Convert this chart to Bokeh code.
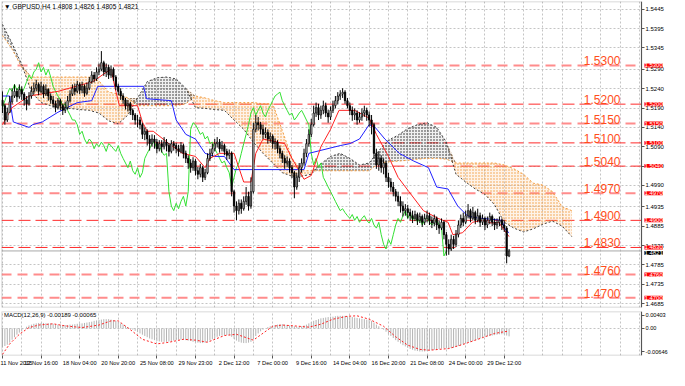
from bokeh.plotting import figure
from bokeh.layouts import column
from bokeh.models import (FixedTicker, Label, Span, Range1d, NumeralTickFormatter,
                          LinearAxis, BoxAnnotation)
from bokeh.embed import file_html
from bokeh.resources import INLINE

FONT = "Liberation Sans"

# ---------------- data (GBPUSD H4) ----------------
first_open = 1.5210
close = [
    1.5196, 1.5159, 1.5179, 1.5206, 1.5221, 1.5233, 1.5219, 1.5238, 1.5226, 1.5211,
    1.5201, 1.5221, 1.5233, 1.5241, 1.5251, 1.5233, 1.5246, 1.5226, 1.5238, 1.5221,
    1.5211, 1.5201, 1.5191, 1.5209, 1.5196, 1.5184, 1.5191, 1.5209, 1.5226, 1.5241,
    1.5233, 1.5251, 1.5236, 1.5246, 1.5228, 1.5241, 1.5258, 1.5275, 1.5265, 1.5283,
    1.5290, 1.5307, 1.5283, 1.5295, 1.5275, 1.5290, 1.5270, 1.5246, 1.5233, 1.5221,
    1.5211, 1.5196, 1.5201, 1.5184, 1.5172, 1.5159, 1.5159, 1.5147, 1.5122, 1.5130,
    1.5110, 1.5098, 1.5110, 1.5102, 1.5085, 1.5098, 1.5090, 1.5102, 1.5093, 1.5078,
    1.5098, 1.5093, 1.5085, 1.5078, 1.5093, 1.5073, 1.5060, 1.5048, 1.5036, 1.5053,
    1.5028, 1.5019, 1.5036, 1.5011, 1.5023, 1.5060, 1.5073, 1.5085, 1.5098, 1.5102,
    1.5085, 1.5093, 1.5078, 1.5068, 1.5073, 1.4974, 1.4937, 1.4925, 1.4944, 1.4930,
    1.4949, 1.4962, 1.4937, 1.4974, 1.5135, 1.5152, 1.5147, 1.5135, 1.5122, 1.5127,
    1.5110, 1.5117, 1.5098, 1.5102, 1.5085, 1.5073, 1.5060, 1.5048, 1.5053, 1.5036,
    1.5023, 1.4986, 1.5011, 1.5036, 1.5048, 1.5073, 1.5098, 1.5122, 1.5147, 1.5177,
    1.5191, 1.5172, 1.5184, 1.5196, 1.5177, 1.5167, 1.5184, 1.5196, 1.5209, 1.5221,
    1.5226, 1.5231, 1.5209, 1.5196, 1.5184, 1.5172, 1.5177, 1.5159, 1.5167, 1.5177,
    1.5184, 1.5172, 1.5159, 1.5147, 1.5073, 1.5043, 1.5060, 1.5036, 1.5048, 1.5011,
    1.4999, 1.4986, 1.4974, 1.4962, 1.4949, 1.4937, 1.4925, 1.4930, 1.4920, 1.4912,
    1.4905, 1.4915, 1.4900, 1.4910, 1.4895, 1.4905, 1.4912, 1.4900, 1.4893, 1.4905,
    1.4888, 1.4880, 1.4895, 1.4863, 1.4838, 1.4826, 1.4851, 1.4838, 1.4863, 1.4888,
    1.4905, 1.4895, 1.4912, 1.4925, 1.4905, 1.4920, 1.4900, 1.4912, 1.4895, 1.4905,
    1.4888, 1.4900, 1.4910, 1.4895, 1.4888, 1.4895, 1.4900, 1.4888, 1.4880, 1.4808,
    1.4821,
]
high = [
    1.5233, 1.5201, 1.5191, 1.5221, 1.5241, 1.5251, 1.5241, 1.5251, 1.5246, 1.5231,
    1.5221, 1.5231, 1.5246, 1.5256, 1.5263, 1.5256, 1.5258, 1.5251, 1.5251, 1.5241,
    1.5228, 1.5221, 1.5209, 1.5216, 1.5214, 1.5201, 1.5206, 1.5221, 1.5236, 1.5251,
    1.5253, 1.5260, 1.5256, 1.5258, 1.5251, 1.5256, 1.5270, 1.5285, 1.5283, 1.5295,
    1.5305, 1.5337, 1.5312, 1.5305, 1.5302, 1.5300, 1.5295, 1.5275, 1.5253, 1.5241,
    1.5228, 1.5216, 1.5211, 1.5206, 1.5189, 1.5177, 1.5172, 1.5167, 1.5152, 1.5140,
    1.5135, 1.5120, 1.5122, 1.5120, 1.5110, 1.5107, 1.5107, 1.5115, 1.5110, 1.5100,
    1.5107, 1.5105, 1.5100, 1.5095, 1.5102, 1.5098, 1.5080, 1.5068, 1.5058, 1.5063,
    1.5058, 1.5038, 1.5046, 1.5041, 1.5033, 1.5073, 1.5085, 1.5098, 1.5110, 1.5115,
    1.5110, 1.5105, 1.5098, 1.5085, 1.5083, 1.5078, 1.4979, 1.4949, 1.4954, 1.4954,
    1.4962, 1.4986, 1.4974, 1.5011, 1.5152, 1.5172, 1.5167, 1.5154, 1.5147, 1.5140,
    1.5135, 1.5127, 1.5122, 1.5112, 1.5107, 1.5093, 1.5080, 1.5068, 1.5065, 1.5060,
    1.5043, 1.5028, 1.5023, 1.5048, 1.5060, 1.5085, 1.5110, 1.5135, 1.5162, 1.5196,
    1.5204, 1.5201, 1.5196, 1.5209, 1.5204, 1.5186, 1.5194, 1.5209, 1.5221, 1.5231,
    1.5236, 1.5241, 1.5236, 1.5216, 1.5204, 1.5194, 1.5189, 1.5184, 1.5179, 1.5189,
    1.5196, 1.5191, 1.5181, 1.5172, 1.5152, 1.5085, 1.5078, 1.5068, 1.5060, 1.5053,
    1.5023, 1.5009, 1.4999, 1.4981, 1.4974, 1.4962, 1.4949, 1.4942, 1.4940, 1.4930,
    1.4925, 1.4925, 1.4920, 1.4920, 1.4915, 1.4917, 1.4925, 1.4920, 1.4910, 1.4915,
    1.4910, 1.4900, 1.4905, 1.4900, 1.4870, 1.4851, 1.4863, 1.4860, 1.4875, 1.4900,
    1.4915, 1.4920, 1.4925, 1.4942, 1.4930, 1.4935, 1.4925, 1.4930, 1.4920, 1.4915,
    1.4910, 1.4910, 1.4920, 1.4915, 1.4905, 1.4905, 1.4910, 1.4905, 1.4900, 1.4885,
    1.4826,
]
low = [
    1.5177, 1.5147, 1.5154, 1.5177, 1.5201, 1.5216, 1.5206, 1.5214, 1.5211, 1.5196,
    1.5184, 1.5196, 1.5214, 1.5226, 1.5233, 1.5223, 1.5228, 1.5216, 1.5221, 1.5209,
    1.5201, 1.5191, 1.5179, 1.5186, 1.5184, 1.5172, 1.5177, 1.5186, 1.5204, 1.5221,
    1.5223, 1.5228, 1.5226, 1.5228, 1.5219, 1.5223, 1.5236, 1.5253, 1.5256, 1.5260,
    1.5275, 1.5285, 1.5273, 1.5270, 1.5265, 1.5268, 1.5260, 1.5236, 1.5223, 1.5211,
    1.5201, 1.5186, 1.5181, 1.5172, 1.5159, 1.5147, 1.5140, 1.5135, 1.5110, 1.5107,
    1.5093, 1.5080, 1.5090, 1.5085, 1.5073, 1.5078, 1.5075, 1.5083, 1.5078, 1.5065,
    1.5073, 1.5080, 1.5073, 1.5065, 1.5073, 1.5060, 1.5048, 1.5033, 1.5023, 1.5028,
    1.5016, 1.5006, 1.5011, 1.4999, 1.5004, 1.5019, 1.5053, 1.5065, 1.5078, 1.5088,
    1.5075, 1.5078, 1.5068, 1.5056, 1.5058, 1.4962, 1.4920, 1.4900, 1.4915, 1.4917,
    1.4925, 1.4940, 1.4925, 1.4930, 1.4969, 1.5127, 1.5132, 1.5122, 1.5110, 1.5112,
    1.5098, 1.5100, 1.5085, 1.5083, 1.5073, 1.5060, 1.5048, 1.5033, 1.5038, 1.5023,
    1.5009, 1.4957, 1.4979, 1.4999, 1.5023, 1.5041, 1.5063, 1.5090, 1.5115, 1.5142,
    1.5167, 1.5159, 1.5162, 1.5174, 1.5167, 1.5152, 1.5159, 1.5177, 1.5189, 1.5199,
    1.5211, 1.5216, 1.5201, 1.5189, 1.5172, 1.5157, 1.5159, 1.5147, 1.5152, 1.5157,
    1.5167, 1.5157, 1.5142, 1.5122, 1.5060, 1.5033, 1.5028, 1.5023, 1.5019, 1.4999,
    1.4984, 1.4974, 1.4962, 1.4949, 1.4937, 1.4920, 1.4910, 1.4912, 1.4905, 1.4900,
    1.4893, 1.4898, 1.4888, 1.4893, 1.4883, 1.4888, 1.4895, 1.4888, 1.4880, 1.4885,
    1.4875, 1.4865, 1.4875, 1.4851, 1.4809, 1.4811, 1.4821, 1.4826, 1.4831, 1.4856,
    1.4880, 1.4885, 1.4890, 1.4905, 1.4895, 1.4900, 1.4890, 1.4895, 1.4883, 1.4888,
    1.4875, 1.4880, 1.4890, 1.4885, 1.4875, 1.4878, 1.4885, 1.4875, 1.4870, 1.4789,
    1.4805,
]

# Ichimoku lines (bar index, price)
tenkan_x = [0, 4, 11, 23, 37.5, 42, 45, 47, 48.5, 56, 58, 60, 62.5, 69, 74.6, 80, 84, 86, 90, 96,
            100, 103, 105, 108, 117, 120, 125, 128, 132, 136, 139.5, 146, 152, 155, 160, 164, 168.5,
            174.5, 180.6, 184.7, 186.7, 190.7, 194.8, 198.8, 202.8, 205.6, 208, 210]
tenkan_v = [1.5147, 1.5191, 1.5221, 1.5233, 1.5258, 1.5278, 1.5290, 1.5233, 1.5196, 1.5196,
            1.5154, 1.5130, 1.5130, 1.5098, 1.5073, 1.5065, 1.5036, 1.5060, 1.5073, 1.5073,
            1.4999, 1.4999, 1.5073, 1.5110, 1.5098, 1.5060, 1.5006, 1.5016, 1.5090, 1.5135,
            1.5184, 1.5184, 1.5164, 1.5122, 1.5065, 1.5011, 1.4974, 1.4925, 1.4905, 1.4895,
            1.4863, 1.4868, 1.4895, 1.4900, 1.4893, 1.4895, 1.4875, 1.4858]
kijun_x = [0, 3, 4, 4.5, 11, 12.5, 16.5, 23, 31, 37, 39.5, 58.5, 59.7, 70, 72, 76, 80, 84, 88, 92,
           96, 125, 127, 140, 144, 148, 152, 154.5, 158.5, 164.5, 170.5, 176.6, 180, 184.7, 188.7,
           192.7, 196, 207, 208.5, 210]
kijun_v = [1.5221, 1.5221, 1.5172, 1.5154, 1.5140, 1.5147, 1.5154, 1.5179, 1.5204, 1.5209,
           1.5246, 1.5246, 1.5214, 1.5209, 1.5159, 1.5122, 1.5110, 1.5073, 1.5065, 1.5065,
           1.5031, 1.5031, 1.5073, 1.5093, 1.5098, 1.5110, 1.5147, 1.5140, 1.5110, 1.5073,
           1.5053, 1.5036, 1.4986, 1.4981, 1.4937, 1.4912, 1.4907, 1.4900, 1.4875, 1.4868]
cloud_x = list(range(0, 237, 4))
span_a = [1.5406, 1.5357, 1.5302, 1.5231, 1.5204, 1.5196, 1.5191, 1.5189, 1.5186, 1.5184,
          1.5177, 1.5157, 1.5149, 1.5172, 1.5216, 1.5258, 1.5268, 1.5270, 1.5265, 1.5241,
          1.5191, 1.5189, 1.5186, 1.5184, 1.5159, 1.5135, 1.5102, 1.5073, 1.5048, 1.5023,
          1.5014, 1.5014, 1.5019, 1.5046, 1.5065, 1.5073, 1.5060, 1.5043, 1.5048, 1.5080,
          1.5107, 1.5120, 1.5137, 1.5147, 1.5152, 1.5140, 1.5102, 1.5019, 1.4999, 1.4981,
          1.4967, 1.4940, 1.4895, 1.4880, 1.4870, 1.4878, 1.4890, 1.4898, 1.4885, 1.4858]
span_b = [1.5377, 1.5342, 1.5295, 1.5270, 1.5270, 1.5270, 1.5270, 1.5270, 1.5270, 1.5270,
          1.5260, 1.5231, 1.5226, 1.5216, 1.5196, 1.5196, 1.5196, 1.5196, 1.5196, 1.5201,
          1.5221, 1.5216, 1.5209, 1.5204, 1.5204, 1.5204, 1.5204, 1.5201, 1.5201, 1.5132,
          1.5060, 1.5028, 1.5028, 1.5028, 1.5028, 1.5028, 1.5028, 1.5028, 1.5028, 1.5048,
          1.5051, 1.5053, 1.5055, 1.5058, 1.5060, 1.5060, 1.5058, 1.5048, 1.5048, 1.5048,
          1.5048, 1.5048, 1.5043, 1.5033, 1.5019, 1.4996, 1.4991, 1.4974, 1.4935, 1.4925]

# MACD(12,26,9)
macd = [
    -0.0045, -0.0042, -0.0039, -0.0034, -0.0027, -0.0021, -0.0015, -0.0010, -0.0005, 0.0000,
    0.0004, 0.0007, 0.0009, 0.0011, 0.0012, 0.0013, 0.0013, 0.0013, 0.0012, 0.0012,
    0.0012, 0.0011, 0.0010, 0.0009, 0.0009, 0.0008, 0.0008, 0.0008, 0.0009, 0.0009,
    0.0010, 0.0011, 0.0012, 0.0012, 0.0013, 0.0014, 0.0015, 0.0016, 0.0018, 0.0019,
    0.0020, 0.0021, 0.0022, 0.0022, 0.0022, 0.0021, 0.0020, 0.0018, 0.0015, 0.0012,
    0.0009, 0.0006, 0.0003, 0.0000, -0.0003, -0.0006, -0.0009, -0.0012, -0.0015, -0.0018,
    -0.0021, -0.0024, -0.0026, -0.0028, -0.0030, -0.0031, -0.0032, -0.0032, -0.0032, -0.0031,
    -0.0030, -0.0029, -0.0028, -0.0027, -0.0027, -0.0027, -0.0028, -0.0029, -0.0030, -0.0032,
    -0.0033, -0.0034, -0.0035, -0.0035, -0.0034, -0.0032, -0.0029, -0.0026, -0.0023, -0.0020,
    -0.0018, -0.0017, -0.0016, -0.0016, -0.0016, -0.0020, -0.0025, -0.0029, -0.0032, -0.0034,
    -0.0035, -0.0035, -0.0034, -0.0032, -0.0025, -0.0018, -0.0012, -0.0007, -0.0003, 0.0000,
    0.0003, 0.0005, 0.0007, 0.0008, 0.0009, 0.0010, 0.0010, 0.0009, 0.0008, 0.0007,
    0.0006, 0.0005, 0.0004, 0.0004, 0.0005, 0.0007, 0.0009, 0.0012, 0.0015, 0.0018,
    0.0020, 0.0022, 0.0024, 0.0025, 0.0026, 0.0027, 0.0028, 0.0028, 0.0029, 0.0030,
    0.0030, 0.0030, 0.0030, 0.0029, 0.0028, 0.0027, 0.0026, 0.0025, 0.0024, 0.0023,
    0.0022, 0.0021, 0.0020, 0.0018, 0.0014, 0.0009, 0.0005, 0.0001, -0.0003, -0.0008,
    -0.0013, -0.0018, -0.0023, -0.0028, -0.0032, -0.0036, -0.0040, -0.0043, -0.0046, -0.0049,
    -0.0051, -0.0053, -0.0054, -0.0055, -0.0055, -0.0055, -0.0054, -0.0053, -0.0052, -0.0051,
    -0.0050, -0.0049, -0.0048, -0.0047, -0.0048, -0.0048, -0.0047, -0.0046, -0.0044, -0.0042,
    -0.0040, -0.0038, -0.0036, -0.0034, -0.0032, -0.0030, -0.0028, -0.0026, -0.0024, -0.0022,
    -0.0020, -0.0019, -0.0018, -0.0017, -0.0016, -0.0015, -0.0014, -0.0014, -0.0014, -0.0017,
    -0.00189,
]
signal_x = [0, 3, 7, 11, 15, 21, 26, 33, 40, 45, 48, 53, 58, 64, 69, 75, 80, 85, 92, 97,
            104, 112, 116, 121, 127, 132, 137, 143, 147, 152, 158, 163, 168, 173, 177, 185, 191,
            199, 204, 208, 210]
signal_v = [-0.0062, -0.0037, -0.0014, 0.0002, 0.0008, 0.0011, 0.0006, 0.0002, 0.0008, 0.0018,
            0.0018, -0.0003, -0.0026, -0.0037, -0.0033, -0.0026, -0.0028, -0.0033, -0.0017, -0.0014,
            -0.0028, 0.0005, 0.0008, 0.0006, 0.0003, 0.0010, 0.0022, 0.0029, 0.0030, 0.0022,
            0.0005, -0.0020, -0.0040, -0.0050, -0.0052, -0.0048, -0.0038, -0.0022, -0.0012, -0.0008,
            -0.00065]

levels = [1.5300, 1.5200, 1.5150, 1.5100, 1.5040, 1.4970, 1.4900, 1.4830, 1.4760, 1.4700]
level_heavy = [True, False, True, False, False, True, False, False, True, True]
price_ticks = [1.4685, 1.4735, 1.4785, 1.4835, 1.4885, 1.4935, 1.4990, 1.5040,
               1.5090, 1.5140, 1.5190, 1.5240, 1.5290, 1.5345, 1.5395, 1.5445]
time_labels = ["11 Nov 2015", "13 Nov 16:00", "18 Nov 04:00", "20 Nov 20:00", "25 Nov 08:00",
               "29 Nov 23:00", "2 Dec 12:00", "7 Dec 00:00", "9 Dec 16:00", "14 Dec 04:00",
               "16 Dec 20:00", "21 Dec 08:00", "24 Dec 00:00", "29 Dec 12:00"]
macd_max, macd_min = 0.00403, -0.00646

# ---------------- derived for drawing ----------------
n = len(close)
bars = list(range(n))
opens = [first_open] + close[:-1]
body_top = [max(o, c) for o, c in zip(opens, close)]
body_bot = [min(o, c) for o, c in zip(opens, close)]
body_col = ["white" if c > o else "black" for o, c in zip(opens, close)]
chik_x = bars[: n - 26]
chik_y = close[26:]
cloud_top = [max(a, b) for a, b in zip(span_a, span_b)]
label_ticks = [16 * k for k in range(len(time_labels))]
grid_ticks = list(range(0, 265, 8))

GRID = "#c4c4c4"
EDGE = 264.9          # right border of the chart area (in bars)
FRAME = "#555555"
x_range = Range1d(-0.4, 276.5)


def style_axis(ax, size="6px"):
    ax.major_label_text_font = FONT
    ax.major_label_text_font_size = size
    ax.major_label_text_color = "black"
    ax.major_tick_out = 3
    ax.major_tick_in = 0
    ax.minor_tick_out = 0
    ax.minor_tick_in = 0
    ax.major_label_standoff = 1
    ax.axis_line_color = FRAME
    ax.major_tick_line_color = FRAME


def frame_box(fig):
    # white mask over the axis strip and a border around the chart area
    fig.add_layout(BoxAnnotation(left=EDGE, fill_color="white", fill_alpha=1.0,
                                 line_color=None, level="underlay"))
    fig.add_layout(BoxAnnotation(right=EDGE, fill_color=None, fill_alpha=0,
                                 line_color=FRAME, line_width=1.5))


# ---------------- main price panel ----------------
p = figure(width=669, height=309, x_range=x_range, y_range=Range1d(1.4675, 1.5465),
           output_backend="svg", toolbar_location=None, x_axis_location=None,
           y_axis_location=None, min_border_left=1, min_border_right=0,
           min_border_top=1, min_border_bottom=2, outline_line_color=None,
           background_fill_color="white", border_fill_color="white")
p.xgrid.ticker = FixedTicker(ticks=grid_ticks)
p.xgrid.grid_line_color = GRID
p.xgrid.grid_line_dash = "2 2"
p.ygrid.ticker = FixedTicker(ticks=price_ticks)
p.ygrid.grid_line_color = GRID
p.ygrid.grid_line_dash = "2 2"

# level lines and current price (under the mask so they stop at the border)
for lv, heavy in zip(levels, level_heavy):
    if heavy:
        p.add_layout(Span(location=lv, dimension="width", line_color="#ff8c8c",
                          line_width=2, line_dash="10 6", level="underlay"))
    else:
        p.add_layout(Span(location=lv, dimension="width", line_color="#ff2a2a",
                          line_width=1, line_dash="12 5", level="underlay"))
p.add_layout(Span(location=close[-1], dimension="width", line_color="#a8a8a8",
                  line_width=1, level="underlay"))
frame_box(p)

yax = LinearAxis(fixed_location=EDGE)
yax.ticker = FixedTicker(ticks=price_ticks)
yax.formatter = NumeralTickFormatter(format="0.0000")
style_axis(yax)
p.add_layout(yax, "right")

# cloud
p.varea(x=cloud_x, y1=span_a, y2=cloud_top, fill_color="#f5a04a", fill_alpha=0.12,
        hatch_pattern="dot", hatch_color="#f39a3c", hatch_scale=3, hatch_weight=1)
p.varea(x=cloud_x, y1=span_b, y2=cloud_top, fill_color="#404040", fill_alpha=0.08,
        hatch_pattern="dot", hatch_color="#202020", hatch_scale=3, hatch_weight=1)
p.line(cloud_x, span_b, line_color="#f39a3c", line_dash="2 2", line_width=1)
p.line(cloud_x, span_a, line_color="#404040", line_dash="2 2", line_width=1)

# chikou, tenkan, kijun
p.line(chik_x, chik_y, line_color="#33e033", line_width=1)
p.line(kijun_x, kijun_v, line_color="#2020ff", line_width=1)
p.line(tenkan_x, tenkan_v, line_color="#ff2020", line_width=1)

# candles
p.segment(x0=bars, y0=low, x1=bars, y1=high, line_color="black", line_width=1)
p.vbar(x=bars, width=0.55, top=body_top, bottom=body_bot, fill_color=body_col,
       line_color="black", line_width=0.8)

# level texts and axis tags
for lv in levels:
    p.add_layout(Label(x=256.2, y=lv, text=f"{lv:.4f}", text_align="right",
                       text_baseline="bottom", text_font=FONT, text_font_size="12px",
                       text_color="#ff4d1a"))
    p.add_layout(Label(x=EDGE + 1.2, y=lv, text=f"{lv:.4f}", text_align="left",
                       text_baseline="middle", text_font=FONT, text_font_size="6px",
                       text_color="white", background_fill_color="#ff0000"))
p.add_layout(Label(x=EDGE + 1.2, y=close[-1], text=f"{close[-1]:.4f}", text_align="left",
                   text_baseline="top", text_font=FONT, text_font_size="6px",
                   text_color="white", background_fill_color="black"))

title_txt = "\u25bc GBPUSD,H4  {:.4f} {:.4f} {:.4f} {:.4f}".format(opens[-1], high[-1], low[-1], close[-1])
p.add_layout(Label(x=0.6, y=1.5462, text=title_txt, text_align="left", text_baseline="top",
                   text_font=FONT, text_font_size="6.6px", text_color="black"))

# ---------------- MACD panel ----------------
m = figure(width=669, height=61, x_range=x_range, y_range=Range1d(macd_min, macd_max),
           output_backend="svg", toolbar_location=None, y_axis_location=None,
           min_border_left=1, min_border_right=0, min_border_top=2, min_border_bottom=15,
           outline_line_color=None, background_fill_color="white",
           border_fill_color="white")
m.xgrid.ticker = FixedTicker(ticks=grid_ticks)
m.xgrid.grid_line_color = GRID
m.xgrid.grid_line_dash = "2 2"
m.ygrid.ticker = FixedTicker(ticks=[0.0])
m.ygrid.grid_line_color = GRID
m.ygrid.grid_line_dash = "2 2"
frame_box(m)

m.segment(x0=bars, y0=[0.0] * n, x1=bars, y1=macd, line_color="#b4b4b4", line_width=1)
m.line(signal_x, signal_v, line_color="#ff2020", line_dash="2 2", line_width=1)

xax = m.xaxis[0]
xax.ticker = FixedTicker(ticks=label_ticks)
xax.major_label_overrides = {t: s for t, s in zip(label_ticks, time_labels)}
style_axis(xax, "5.7px")
xax.major_label_text_align = "left"
xax.axis_line_color = None

# the window's max / min labels are drawn just inside the panel, as in the terminal
inset = (macd_max - macd_min) * 0.08
top_tick = round(macd_max - inset, 6)
bot_tick = round(macd_min + inset, 6)
may = LinearAxis(fixed_location=EDGE)
may.ticker = FixedTicker(ticks=[bot_tick, 0.0, top_tick])
may.major_label_overrides = {bot_tick: f"{macd_min:.5f}", 0.0: "0.00", top_tick: f"{macd_max:.5f}"}
style_axis(may, "5.6px")
m.add_layout(may, "right")

m.add_layout(Label(x=0.6, y=0.00395, text="MACD(12,26,9) {:.5f} {:.5f}".format(macd[-1], signal_v[-1]),
                   text_align="left", text_baseline="top", text_font=FONT,
                   text_font_size="6px", text_color="black"))

layout = column(p, m, spacing=0)
open("out.html", "w").write(file_html(layout, INLINE, title="GBPUSD,H4"))
